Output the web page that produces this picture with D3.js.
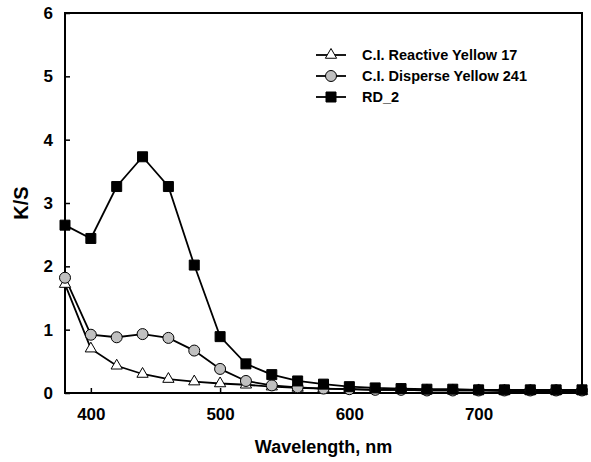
<!DOCTYPE html>
<html>
<head>
<meta charset="utf-8">
<script src="https://cdn.jsdelivr.net/npm/d3@7"></script>
<style>
  body { margin: 0; background: #fff; }
  svg { display: block; font-family: "Liberation Sans", Arial, sans-serif; font-weight: bold; }
</style>
</head>
<body>
<div class="canva"></div>
<script>
// wavelengths (nm)
const wavelengths = [380, 400, 420, 440, 460, 480, 500, 520, 540, 560, 580, 600, 620, 640, 660, 680, 700, 720, 740, 760, 780];

// K/S values
const reactiveYellow17 = [1.72, 0.70, 0.43, 0.30, 0.22, 0.18, 0.15, 0.13, 0.10, 0.08, 0.07, 0.06, 0.05, 0.05, 0.04, 0.04, 0.04, 0.03, 0.03, 0.03, 0.03];
const disperseYellow241 = [1.82, 0.92, 0.88, 0.93, 0.87, 0.67, 0.38, 0.19, 0.12, 0.09, 0.07, 0.06, 0.05, 0.05, 0.04, 0.04, 0.04, 0.04, 0.04, 0.04, 0.04];
const rd2 = [2.65, 2.44, 3.26, 3.73, 3.26, 2.02, 0.89, 0.46, 0.29, 0.19, 0.14, 0.10, 0.08, 0.07, 0.06, 0.06, 0.05, 0.05, 0.05, 0.05, 0.05];

const seriesNames = ["C.I. Reactive Yellow 17", "C.I. Disperse Yellow 241", "RD_2"];
const xTicks = [400, 500, 600, 700];
const yTicks = [0, 1, 2, 3, 4, 5, 6];

const W = 591, H = 462;
const mLeft = 65, mRight = 582, mTop = 13, mBottom = 393;

const svg = d3.select('.canva').append('svg')
    .attr('width', W)
    .attr('height', H);

const x = d3.scaleLinear().domain([380, 780]).range([mLeft, mRight]);
const y = d3.scaleLinear().domain([0, 6]).range([mBottom, mTop]);

// inward ticks
svg.append('g')
    .attr('transform', `translate(0,${mBottom})`)
    .call(d3.axisBottom(x).tickValues(xTicks).tickFormat(d3.format('d')).tickSizeInner(-5).tickSizeOuter(0).tickPadding(15))
    .call(g => g.select('.domain').remove())
    .call(g => g.selectAll('line').attr('stroke-width', 1.5))
    .call(g => g.selectAll('text').attr('font-size', 17).attr('font-family', null).attr('fill', '#000'));

svg.append('g')
    .attr('transform', `translate(${mLeft},0)`)
    .call(d3.axisLeft(y).tickValues(yTicks).tickFormat(d3.format('d')).tickSizeInner(-5).tickSizeOuter(0).tickPadding(12))
    .call(g => g.select('.domain').remove())
    .call(g => g.selectAll('line').attr('stroke-width', 1.5))
    .call(g => g.selectAll('text').attr('font-size', 17).attr('font-family', null).attr('fill', '#000'));

// frame
svg.append('rect')
    .attr('x', mLeft).attr('y', mTop)
    .attr('width', mRight - mLeft).attr('height', mBottom - mTop)
    .attr('fill', 'none').attr('stroke', '#000').attr('stroke-width', 2);

const series = [
    {name: seriesNames[0], values: reactiveYellow17, symbol: d3.symbolTriangle, size: 55, fill: '#fff'},
    {name: seriesNames[1], values: disperseYellow241, symbol: d3.symbolCircle, size: 95, fill: '#c0c0c0'},
    {name: seriesNames[2], values: rd2, symbol: d3.symbolSquare, size: 100, fill: '#000'}
];

const line = d3.line()
    .x((d, i) => x(wavelengths[i]))
    .y(d => y(d));

series.forEach(s => {
    svg.append('path')
        .attr('d', line(s.values))
        .attr('fill', 'none')
        .attr('stroke', '#000')
        .attr('stroke-width', 1.8);
});

series.forEach(s => {
    svg.selectAll(null)
        .data(s.values)
        .enter().append('path')
        .attr('d', d3.symbol().type(s.symbol).size(s.size))
        .attr('transform', (d, i) => `translate(${x(wavelengths[i])},${y(d)})`)
        .attr('fill', s.fill)
        .attr('stroke', '#000')
        .attr('stroke-width', 1);
});

// legend
const legend = svg.append('g').attr('transform', 'translate(316,55)');
series.forEach((s, i) => {
    const g = legend.append('g').attr('transform', `translate(0,${i * 21})`);
    g.append('line').attr('x1', 0).attr('x2', 30).attr('stroke', '#000').attr('stroke-width', 1.8);
    g.append('path')
        .attr('d', d3.symbol().type(s.symbol).size(s.size))
        .attr('transform', 'translate(15,0)')
        .attr('fill', s.fill).attr('stroke', '#000');
    g.append('text')
        .attr('x', 46).attr('dy', '0.36em')
        .attr('font-size', 14.5)
        .text(s.name);
});

// axis titles
svg.append('text')
    .attr('x', (mLeft + mRight) / 2).attr('y', 453)
    .attr('text-anchor', 'middle')
    .attr('font-size', 18)
    .text('Wavelength, nm');

svg.append('text')
    .attr('transform', `translate(28,${(mTop + mBottom) / 2}) rotate(-90)`)
    .attr('text-anchor', 'middle')
    .attr('font-size', 20)
    .text('K/S');
</script>
</body>
</html>
